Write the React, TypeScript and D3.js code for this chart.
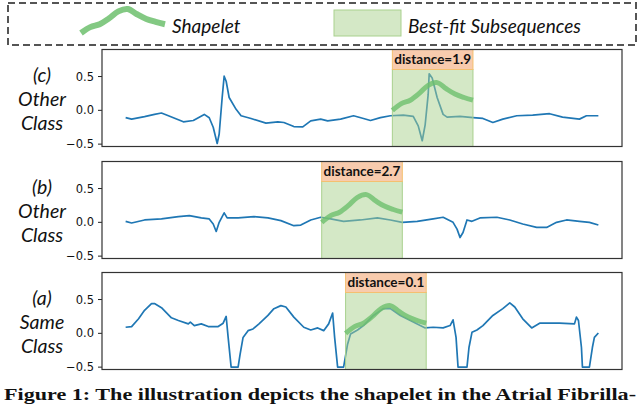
import React from "react";
import * as d3 from "d3";

// ECG traces: [time step, amplitude]
const otherClassC: [number, number][] = [
  [0, -0.107], [6, -0.13], [19, -0.093], [29, -0.06], [36, -0.04], [43, -0.08],
  [58, -0.17], [68, -0.15], [79, -0.06], [84, -0.11], [88, -0.25], [92, -0.49],
  [94, -0.35], [97, 0.19], [99, 0.505], [101, 0.43], [104, 0.19], [111, 0.015],
  [116, -0.08], [126, -0.12], [141, -0.19], [153, -0.17], [159, -0.18], [169, -0.24],
  [178, -0.245], [186, -0.155], [196, -0.13], [203, -0.155], [216, -0.13], [229, -0.08],
  [239, -0.12], [246, -0.15], [256, -0.107], [266, -0.08], [279, -0.07], [289, -0.09],
  [294, -0.23], [298, -0.45], [301, -0.21], [304, 0.235], [305, 0.54], [308, 0.48],
  [313, 0.19], [319, -0.06], [323, -0.1], [336, -0.09], [349, -0.107], [359, -0.12],
  [369, -0.18], [379, -0.13], [393, -0.08], [409, -0.07], [426, -0.05], [439, -0.1],
  [456, -0.13], [463, -0.08], [475, -0.08],
];

const otherClassB: [number, number][] = [
  [0, 0.015], [6, -0.01], [19, 0.035], [36, 0.05], [53, 0.085], [64, 0.1],
  [76, 0.065], [84, 0.05], [88, -0.025], [91, -0.135], [94, 0.0], [99, 0.14],
  [102, 0.065], [113, 0.065], [129, 0.085], [143, 0.065], [156, 0.025], [169, -0.05],
  [176, -0.04], [186, 0.035], [196, 0.075], [206, 0.05], [219, 0.015], [236, 0.035],
  [253, 0.065], [266, 0.035], [278, 0.0], [293, 0.015], [309, 0.05], [319, 0.075],
  [329, 0.0], [333, -0.1], [336, -0.225], [339, -0.15], [343, 0.035], [348, 0.015],
  [356, 0.065], [373, 0.075], [386, 0.035], [399, -0.025], [413, -0.075], [423, -0.075],
  [433, 0.0], [443, 0.035], [456, 0.015], [466, 0.0], [475, -0.04],
];

const sameClassA: [number, number][] = [
  [0, 0.09], [6, 0.1], [13, 0.215], [19, 0.34], [26, 0.44], [29, 0.44], [36, 0.38],
  [46, 0.23], [53, 0.19], [63, 0.14], [65, 0.165], [69, 0.115], [76, 0.14], [83, 0.1],
  [93, 0.1], [98, 0.15], [101, 0.25], [103, -0.06], [106, -0.5], [113, -0.5],
  [115, -0.31], [118, -0.06], [123, 0.04], [128, 0.065], [134, 0.14], [143, 0.265],
  [149, 0.365], [156, 0.41], [161, 0.39], [169, 0.24], [179, 0.09], [186, 0.05],
  [193, 0.08], [199, 0.04], [204, 0.14], [208, 0.3], [210, -0.06], [213, -0.5],
  [219, -0.5], [223, -0.16], [226, -0.01], [233, 0.05], [239, 0.115], [249, 0.265],
  [259, 0.365], [266, 0.365], [276, 0.265], [286, 0.19], [301, 0.08], [309, 0.09],
  [319, 0.08], [326, 0.115], [329, 0.2], [332, -0.06], [334, -0.5], [343, -0.5],
  [345, -0.21], [348, 0.015], [353, 0.05], [359, 0.115], [369, 0.265], [379, 0.365],
  [386, 0.45], [391, 0.39], [399, 0.215], [408, 0.08], [416, 0.15], [426, 0.15],
  [436, 0.15], [451, 0.14], [453, 0.24], [455, 0.19], [458, -0.21], [459, -0.5],
  [466, -0.5], [469, -0.21], [471, -0.06], [475, 0.005],
];

// learned shapelet, evenly spaced over its length
const shapelet = [0.0, 0.1, 0.15, 0.25, 0.37, 0.41, 0.32, 0.24, 0.19, 0.15];
const shapeletLength = 81;

const panelSeries = [otherClassC, otherClassB, sameClassA];
const panelLabels = [["(c)", "Other", "Class"], ["(b)", "Other", "Class"], ["(a)", "Same", "Class"]];
const matchStarts = [268, 197, 221];
const distances = ["1.9", "2.7", "0.1"];
const yTicks = [0.5, 0.0, -0.5];
const seriesEnd = 475;

const W = 640;
const H = 405;
const plotLeft = 102;
const plotRight = 622;
const panelTops = [49.5, 161.5, 272.5];
const panelHeight = 97;

const blue = "#1f77b4";
const shapeGreen = "#6dbf6d";

const x = d3
  .scaleLinear()
  .domain([-seriesEnd * 0.05, seriesEnd * 1.05])
  .range([plotLeft, plotRight]);

const labelFont = "Lato, 'Open Sans', sans-serif";

const Panel = ({ idx }: { idx: number }) => {
  const top = panelTops[idx];
  const y = d3.scaleLinear().domain([-0.535, 0.9]).range([top + panelHeight, top]);
  const line = d3
    .line<[number, number]>()
    .x((d) => x(d[0]))
    .y((d) => y(d[1]));
  const start = matchStarts[idx];
  const shapeX = d3
    .scaleLinear()
    .domain([0, shapelet.length - 1])
    .range([x(start), x(start + shapeletLength)]);
  const shapeLine = d3
    .line<number>()
    .x((d, i) => shapeX(i))
    .y((d) => y(d))
    .curve(d3.curveCatmullRom);
  const rx = x(start);
  const rw = x(start + shapeletLength) - rx;
  const boxH = 20;
  const labels = panelLabels[idx];

  return (
    <g>
      {labels.map((t, i) => (
        <text
          key={i}
          x={42}
          y={top + 32 + i * 24}
          textAnchor="middle"
          fontFamily={labelFont}
          fontStyle="italic"
          fontSize={19.5}
          fill="#111"
        >
          {t}
        </text>
      ))}
      {yTicks.map((t) => (
        <g key={t}>
          <line x1={plotLeft - 4} x2={plotLeft} y1={y(t)} y2={y(t)} stroke="#222" strokeWidth={1} />
          <text
            x={plotLeft - 8}
            y={y(t)}
            dy="0.35em"
            textAnchor="end"
            fontFamily="DejaVu Sans, sans-serif"
            fontSize={11.5}
            fill="#111"
          >
            {t === 0 ? "0.0" : t > 0 ? t.toFixed(1) : "\u2212" + Math.abs(t).toFixed(1)}
          </text>
        </g>
      ))}
      <path d={line(panelSeries[idx]) || ""} fill="none" stroke={blue} strokeWidth={1.7} strokeLinejoin="round" />
      <rect
        x={rx}
        y={top + boxH}
        width={rw}
        height={panelHeight - boxH}
        fill="#a9d18e"
        fillOpacity={0.5}
        stroke="#a9d18e"
        strokeWidth={1}
      />
      <rect x={rx} y={top} width={rw} height={boxH} fill="#f8cbad" stroke="#f4c070" strokeWidth={1} />
      <text
        x={rx + rw / 2}
        y={top + boxH / 2}
        dy="0.36em"
        textAnchor="middle"
        fontFamily={labelFont}
        fontWeight="bold"
        fontSize={13.5}
        fill="#111"
      >
        distance={distances[idx]}
      </text>
      <path
        d={shapeLine(shapelet) || ""}
        fill="none"
        stroke={shapeGreen}
        strokeWidth={5}
        strokeOpacity={0.8}
      />
      <rect
        x={plotLeft}
        y={top}
        width={plotRight - plotLeft}
        height={panelHeight}
        fill="none"
        stroke="#333"
        strokeWidth={1.2}
      />
    </g>
  );
};

const Legend = () => {
  const lx = d3.scaleLinear().domain([0, shapelet.length - 1]).range([81, 165]);
  const ly = d3.scaleLinear().domain([0, 0.41]).range([33, 9]);
  const squiggle = d3
    .line<number>()
    .x((d, i) => lx(i))
    .y((d) => ly(d))
    .curve(d3.curveCatmullRom);
  return (
    <g>
      <rect x={8} y={3} width={628} height={42} fill="none" stroke="#555" strokeWidth={2} strokeDasharray="7,4" />
      <path d={squiggle(shapelet) || ""} fill="none" stroke={shapeGreen} strokeWidth={6} strokeOpacity={0.85} />
      <text x={172} y={33} fontFamily={labelFont} fontStyle="italic" fontSize={19} fill="#111">
        Shapelet
      </text>
      <rect x={334} y={10} width={67} height={26} fill="#a9d18e" fillOpacity={0.5} stroke="#a9d18e" strokeWidth={1} />
      <text x={408} y={33} fontFamily={labelFont} fontStyle="italic" fontSize={19} fill="#111">
        Best-fit Subsequences
      </text>
    </g>
  );
};

export default function App() {
  return (
    <svg
      width={W}
      height={H}
      viewBox={`0 0 ${W} ${H}`}
      style={{ position: "absolute", left: 0, top: 0, background: "#fff" }}
    >
      <rect width={W} height={H} fill="#fff" />
      <Legend />
      {panelSeries.map((_, i) => (
        <Panel key={i} idx={i} />
      ))}
      <text
        x={4}
        y={400}
        fontFamily="'Liberation Serif', serif"
        fontWeight="bold"
        fontSize={17.5}
        textLength={632}
        lengthAdjust="spacingAndGlyphs"
        fill="#111"
      >
        Figure 1: The illustration depicts the shapelet in the Atrial Fibrilla-
      </text>
    </svg>
  );
}
